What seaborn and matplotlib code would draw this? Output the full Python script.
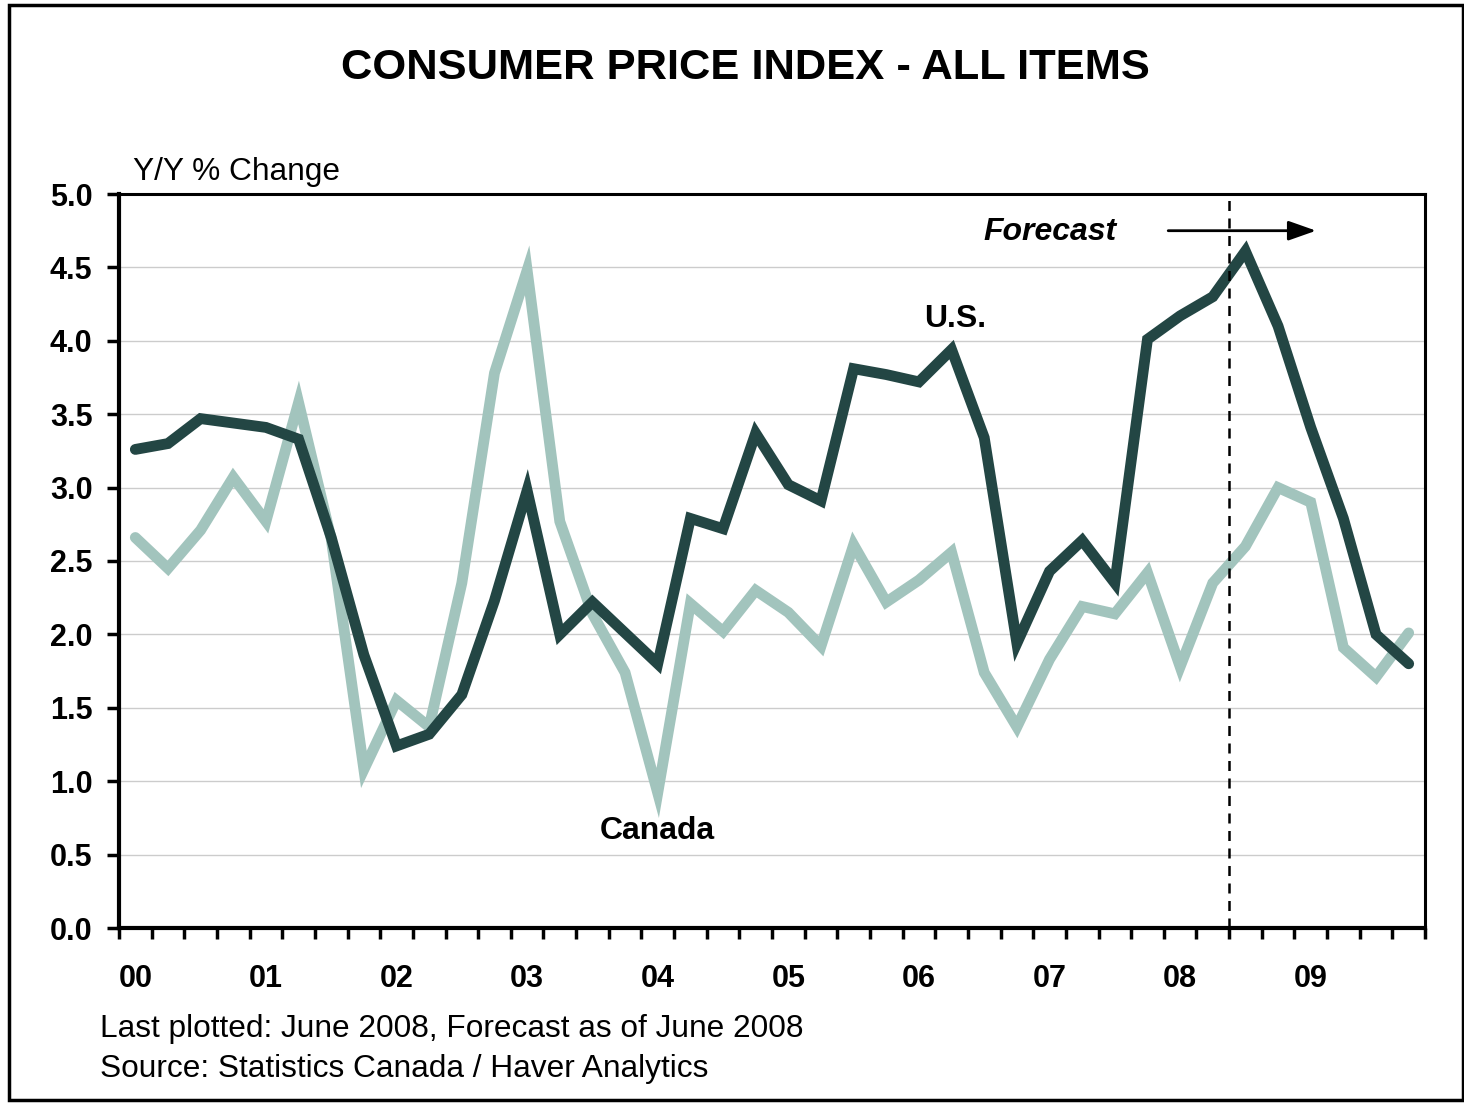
import matplotlib
matplotlib.use("Agg")
import matplotlib.pyplot as plt
import seaborn as sns
import pandas as pd
from matplotlib.patches import Rectangle

year_labels = ["00", "01", "02", "03", "04", "05", "06", "07", "08", "09"]
quarters = list(range(40))
us = [3.26, 3.30, 3.47, 3.44, 3.41, 3.33, 2.66, 1.86, 1.24, 1.32,
      1.59, 2.23, 2.98, 2.00, 2.22, 2.01, 1.80, 2.79, 2.72, 3.37,
      3.02, 2.91, 3.81, 3.77, 3.72, 3.94, 3.34, 1.94, 2.43, 2.64,
      2.35, 4.01, 4.17, 4.30, 4.61, 4.10, 3.41, 2.79, 2.00, 1.80]
canada = [2.66, 2.45, 2.71, 3.07, 2.77, 3.58, 2.65, 1.08, 1.55, 1.37,
          2.35, 3.78, 4.48, 2.77, 2.14, 1.74, 0.92, 2.21, 2.02, 2.30,
          2.15, 1.92, 2.61, 2.22, 2.37, 2.56, 1.74, 1.37, 1.83, 2.19,
          2.14, 2.42, 1.78, 2.35, 2.60, 3.00, 2.90, 1.91, 1.71, 2.01]
forecast_start = 33.5

df = pd.DataFrame({"q": quarters, "US": us, "Canada": canada})

sns.set_style("white")
plt.rcParams['font.family'] = ['Liberation Sans', 'DejaVu Sans']
plt.rcParams['text.color'] = 'black'
plt.rcParams['xtick.color'] = 'black'
plt.rcParams['ytick.color'] = 'black'

fig = plt.figure(figsize=(14.64, 11.04), dpi=100)
ax = fig.add_axes([119/1464, 1-928/1104, (1425-119)/1464, (928-194)/1104])

DARK = "#234644"
LIGHT = "#a2c4bd"

for y in [0.5, 1.0, 1.5, 2.0, 2.5, 3.0, 3.5, 4.0, 4.5]:
    ax.axhline(y, color="#cccccc", lw=1.0, zorder=0)

sns.lineplot(data=df, x="q", y="Canada", ax=ax, color=LIGHT, lw=7.8,
             solid_capstyle="round", solid_joinstyle="miter", zorder=2)
sns.lineplot(data=df, x="q", y="US", ax=ax, color=DARK, lw=7.8,
             solid_capstyle="round", solid_joinstyle="miter", zorder=3)

ax.axvline(forecast_start, color="black", lw=1.8, ls=(0, (4, 3)), zorder=4)

ax.set_xlim(-0.5, 39.5)
ax.set_ylim(0, 5)
ax.set_xlabel("")
ax.set_ylabel("")

ax.set_yticks([i * 0.5 for i in range(11)])
ax.set_yticklabels([f"{i*0.5:.1f}" for i in range(11)], fontsize=22, fontweight="bold")
ax.set_xticks([i * 4 for i in range(10)])
ax.set_xticklabels(year_labels, fontsize=22, fontweight="bold")
ax.set_xticks([i - 0.5 for i in range(41)], minor=True)
ax.tick_params(axis="x", which="major", length=0, pad=26)
ax.tick_params(axis="x", which="minor", length=8, width=2.5, direction="out", color="black")
ax.tick_params(axis="y", length=9, width=2.5, direction="out", color="black", pad=10)
ax.tick_params(bottom=True, left=True, which="both")

for s in ax.spines.values():
    s.set_color("black")
    s.set_linewidth(2.2)
ax.spines["left"].set_linewidth(3)
ax.spines["bottom"].set_linewidth(3)

ax.text(30.05, 4.74, "Forecast", ha="right", va="center", fontsize=23,
        fontweight="bold", fontstyle="italic")
ax.annotate("", xy=(36.25, 4.75), xytext=(31.55, 4.75),
            arrowprops=dict(arrowstyle="-|>,head_length=1.7,head_width=0.6",
                            color="black", lw=2))
ax.text(25.1, 4.15, "U.S.", ha="center", va="center", fontsize=23, fontweight="bold")
ax.text(16.0, 0.66, "Canada", ha="center", va="center", fontsize=23, fontweight="bold")

fig.text(745/1464, 1-68/1104, "CONSUMER PRICE INDEX - ALL ITEMS", ha="center",
         va="center", fontsize=31.3, fontweight="bold")
fig.text(133/1464, 1-172/1104, "Y/Y % Change", ha="left", va="center", fontsize=22.8)
fig.text(100/1464, 1-1029/1104, "Last plotted: June 2008, Forecast as of June 2008",
         ha="left", va="center", fontsize=22.8)
fig.text(100/1464, 1-1069/1104, "Source: Statistics Canada / Haver Analytics",
         ha="left", va="center", fontsize=22.8)

fig.patches.append(Rectangle((9/1464, 4/1104), 1-10/1464, 1-9/1104,
                             transform=fig.transFigure, fill=False,
                             edgecolor="black", lw=2.5))

fig.savefig("out.png", dpi=100)
